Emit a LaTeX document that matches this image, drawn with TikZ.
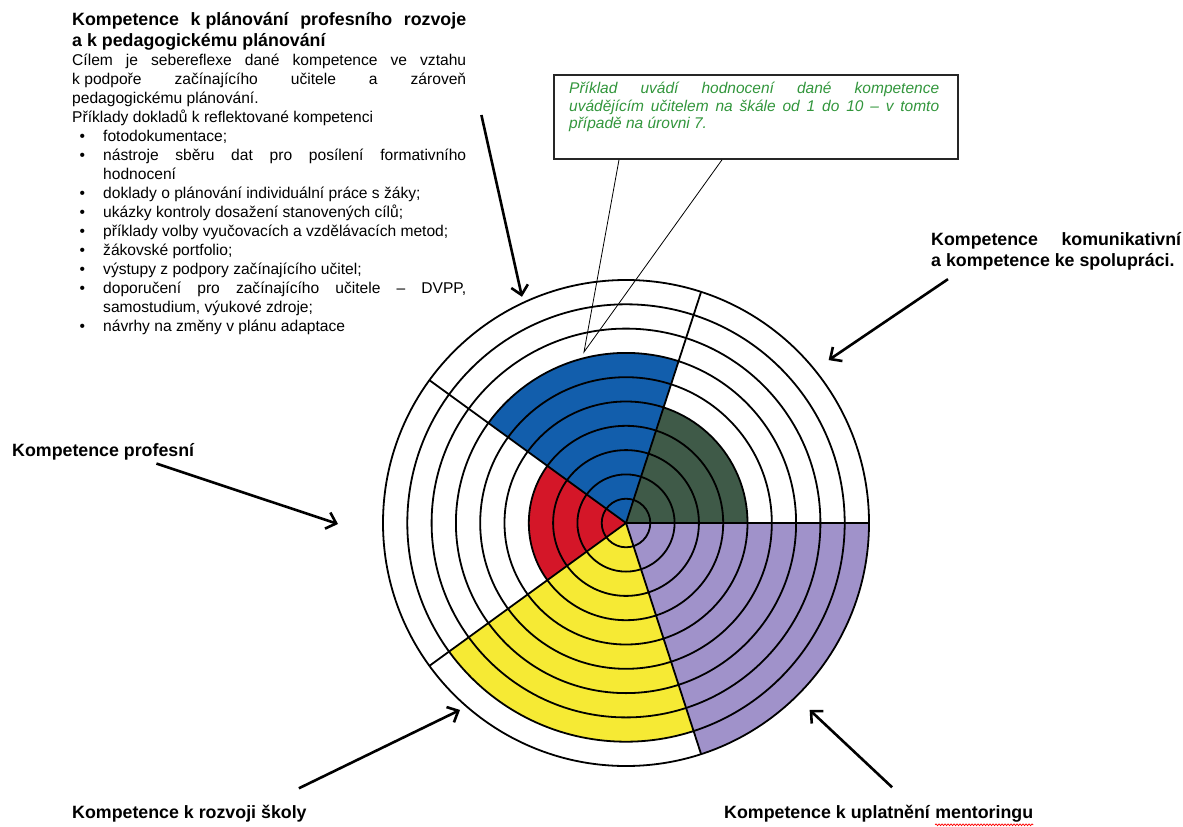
\documentclass[tikz,border=0pt]{standalone}
\usepackage{fontspec}
\setmainfont{Liberation Sans}
\usepackage{enumitem}
\usepackage{xcolor}
\usetikzlibrary{calc,positioning,arrows.meta,shadows,decorations.pathmorphing}
\setlength{\parindent}{0pt}

\definecolor{kgreen}{RGB}{63,90,72}
\definecolor{kblue}{RGB}{18,94,172}
\definecolor{kred}{RGB}{212,22,40}
\definecolor{kyellow}{RGB}{246,234,52}
\definecolor{kviolet}{RGB}{160,146,202}
\definecolor{knote}{RGB}{50,150,60}

\newcommand{\ringw}{24.3}
\newcommand{\fixsp}{\hspace{.28em}}

\begin{document}
\begin{tikzpicture}[x=1pt, y=1pt,
ring/.style={line width=1.8pt},
arr/.style={line width=2.6pt, -{Straight Barb[length=9pt,width=17pt]}},
complbl/.style={inner sep=0pt, font=\bfseries\fontsize{17.8}{21}\selectfont},
bubble/.style={draw=black!85, line width=1.8pt, fill=white,
	drop shadow={opacity=.35, shadow xshift=1.5pt, shadow yshift=-1.5pt},
	minimum width=404pt, minimum height=84pt, inner sep=0pt},
note/.style={inner sep=0pt, text width=370pt, align=justify, text=knote,
	font=\itshape\fontsize{15.5}{17.5}\selectfont}
]
\useasboundingbox (0,0) rectangle (1183,-827);
\coordinate (c) at (626,-523);
\pgfmathsetmacro\rout{10*\ringw}
\foreach \a/\lev/\col in {0/5/kgreen,72/7/kblue,144/4/kred,216/9/kyellow,288/10/kviolet}
{
	\pgfmathsetmacro\rr{\lev*\ringw}
	\fill[\col] (c) -- ++(\a:\rr pt) arc[start angle=\a, delta angle=72, radius=\rr pt] -- cycle;
}
\foreach \i in {1,...,10}
{
	\pgfmathsetmacro\rr{\i*\ringw}
	\draw[ring] (c) circle[radius=\rr pt];
}
\foreach \a in {0,72,...,288}
	\draw[ring] (c) -- ++(\a:\rout pt);

\node[bubble, anchor=north west] (bubble) at (553,-74) {};
\node[note, below right=8pt and 16pt of bubble.north west] (notetxt) {P\v{r}íklad uvádí hodnocení dané kompetence\linebreak uvádějícím učitelem na škále od 1 do 10 – v tomto\linebreak případě na úrovni 7.};
\coordinate (tip) at (584,-352);
\draw[line width=.8pt] ($(bubble.south west)+(66,0)$) -- (tip) -- ($(bubble.south west)+(169,0)$);

\node[anchor=north west, inner sep=0pt, text width=394pt, align=justify] (plan) at (72,-12) {%
{\bfseries\fontsize{17.8}{21}\selectfont Kompetence k\fixsp plánování profesního rozvoje\linebreak a\fixsp k\fixsp pedagogickému plánování\par}
\fontsize{15.6}{19}\selectfont
Cílem je sebereflexe dané kompetence ve vztahu\linebreak k\fixsp podpoře začínajícího učitele a zároveň\linebreak pedagogickému plánování.\par
Příklady dokladů k\fixsp reflektované kompetenci
\begin{itemize}[leftmargin=31pt, labelsep=18pt, itemsep=0pt, topsep=0pt, parsep=0pt, partopsep=0pt]
\item fotodokumentace;
\item nástroje sběru dat pro posílení formativního\linebreak hodnocení
\item doklady o plánování individuální práce s\fixsp žáky;
\item ukázky kontroly dosažení stanovených cílů;
\item příklady volby vyučovacích a vzdělávacích metod;
\item žákovské portfolio;
\item výstupy z\fixsp podpory začínajícího učitel;
\item doporučení pro začínajícího učitele – DVPP,\linebreak samostudium, výukové zdroje;
\item návrhy na změny v\fixsp plánu adaptace
\end{itemize}};

\node[complbl, anchor=west] (profesni) at (12,-452) {Kompetence profesní};
\node[complbl, anchor=north west, text width=250pt, align=justify] (komunik) at (931,-232) {Kompetence komunikativní\linebreak a kompetence ke spolupráci.};
\node[complbl, anchor=west] (skola) at (72,-814) {Kompetence k rozvoji školy};
\node[complbl, anchor=west] (mentor) at (724,-814) {Kompetence k uplatnění};
\node[complbl, anchor=base west] (mentorb) at ($(mentor.base east)+(5,0)$) {mentoringu};
\draw[red, line width=.7pt, decorate, decoration={snake, amplitude=.9pt, segment length=3pt}]
	([yshift=-2pt]mentorb.south west) -- ([yshift=-2pt]mentorb.south east);

\coordinate (tplan) at ($(c)+(114.7:249)$);
\coordinate (tkom) at ($(c)+(38.8:260)$);
\coordinate (tprof) at ($(c)+(180.2:288)$);
\coordinate (tskola) at ($(c)+(228.4:250)$);
\coordinate (tment) at ($(c)+(314.5:262)$);
\draw[arr] ([xshift=15pt,yshift=-103pt]plan.north east) -- (tplan);
\draw[arr] ([xshift=17pt,yshift=-9pt]komunik.south west) -- (tkom);
\draw[arr] ([xshift=-38pt,yshift=-3pt]profesni.south east) -- (tprof);
\draw[arr] ([xshift=-8pt,yshift=17pt]skola.north east) -- (tskola);
\draw[arr] ([xshift=-38pt,yshift=18pt]mentor.north east) -- (tment);
\end{tikzpicture}
\end{document}
